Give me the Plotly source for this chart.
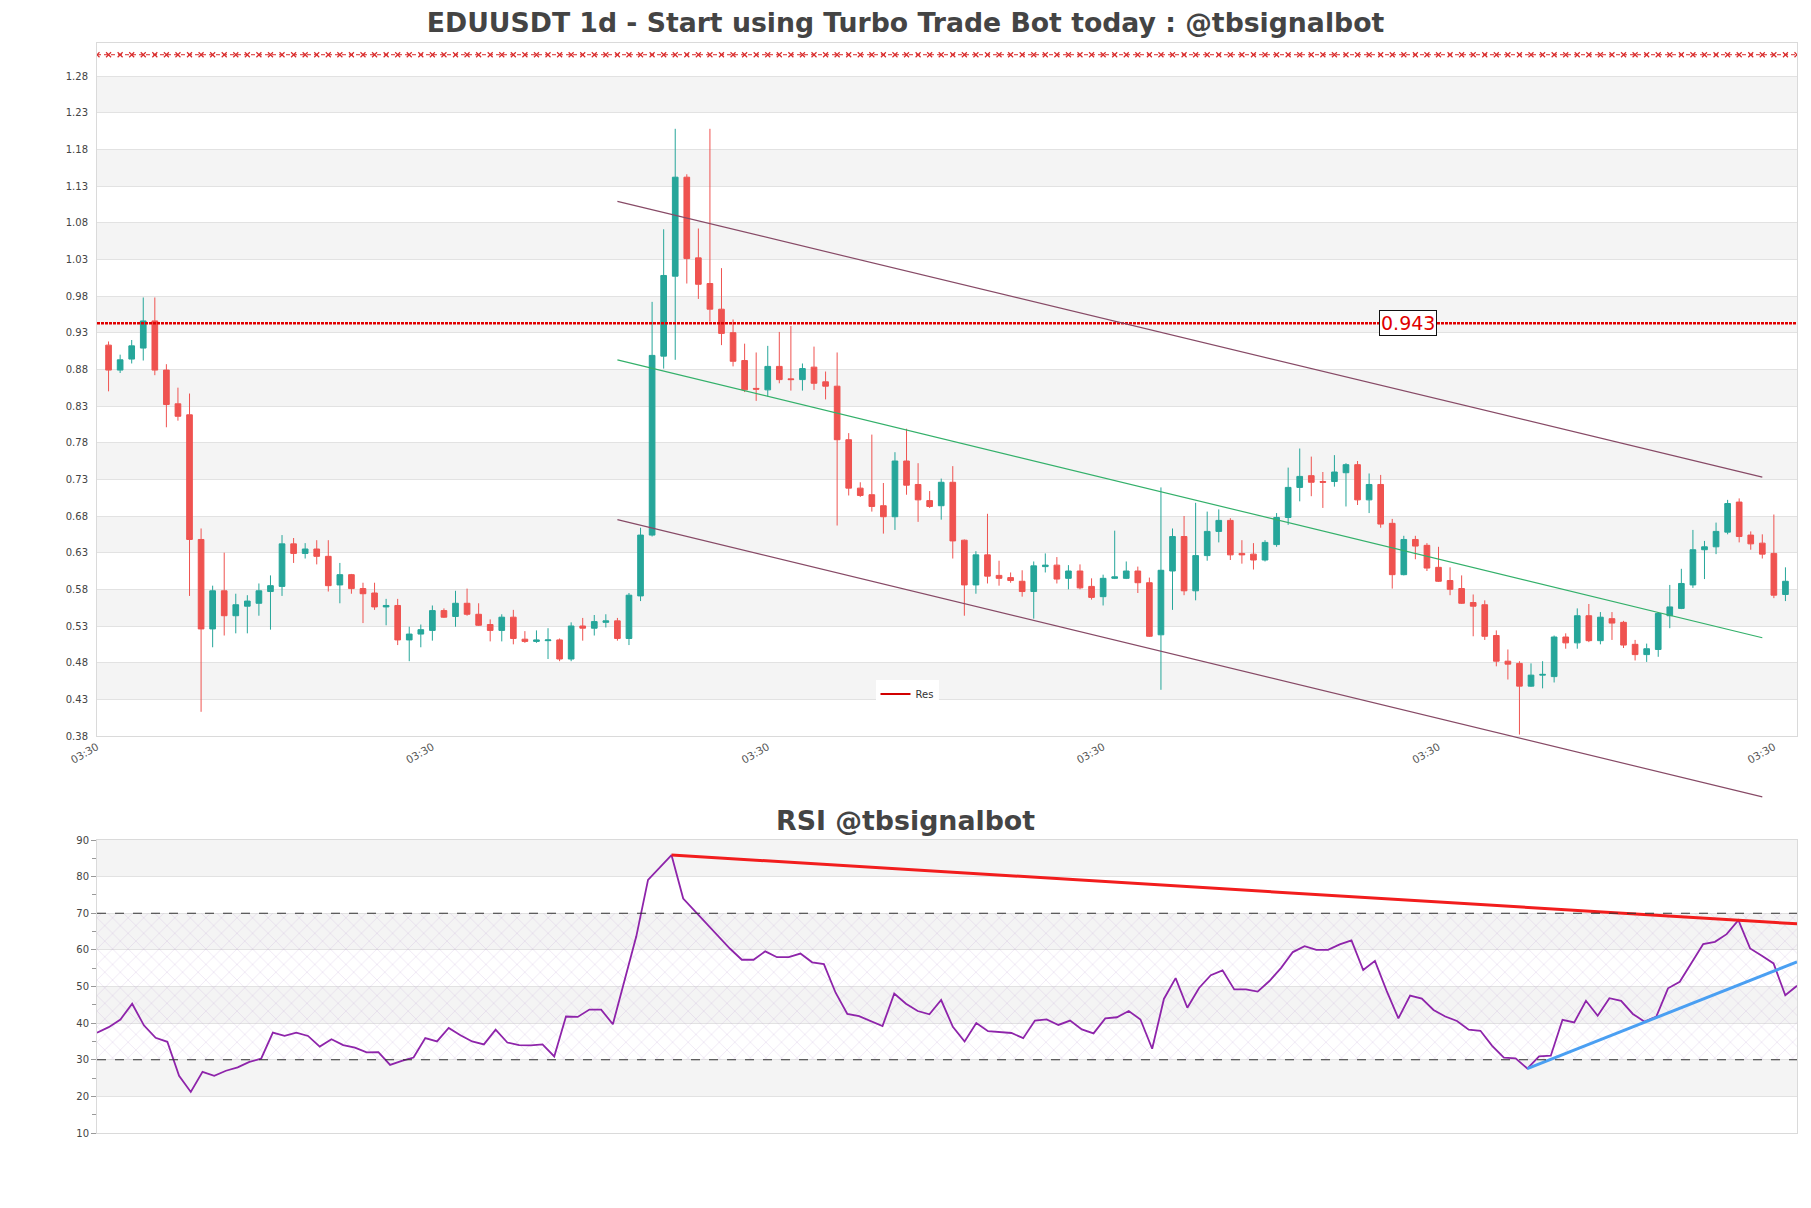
import plotly.graph_objects as go

# ---------------- data ----------------
opens = [0.913, 0.879, 0.894, 0.909, 0.946, 0.879, 0.833, 0.818, 0.648, 0.526,
         0.578, 0.544, 0.557, 0.561, 0.577, 0.584, 0.642, 0.629, 0.635, 0.625,
         0.586, 0.600, 0.581, 0.575, 0.556, 0.558, 0.511, 0.519, 0.524, 0.551,
         0.543, 0.561, 0.546, 0.532, 0.524, 0.542, 0.512, 0.509, 0.510, 0.511,
         0.485, 0.530, 0.527, 0.535, 0.537, 0.513, 0.571, 0.654, 0.898, 1.007,
         1.142, 1.032, 0.997, 0.962, 0.930, 0.892, 0.854, 0.852, 0.884, 0.867,
         0.866, 0.883, 0.863, 0.857, 0.784, 0.718, 0.709, 0.694, 0.679, 0.755,
         0.723, 0.701, 0.694, 0.726, 0.647, 0.586, 0.627, 0.599, 0.596, 0.591,
         0.577, 0.611, 0.613, 0.595, 0.605, 0.584, 0.570, 0.595, 0.595, 0.605,
         0.589, 0.518, 0.605, 0.652, 0.578, 0.626, 0.659, 0.674, 0.629, 0.628,
         0.620, 0.641, 0.678, 0.719, 0.735, 0.727, 0.727, 0.739, 0.750, 0.702,
         0.723, 0.670, 0.600, 0.648, 0.640, 0.610, 0.592, 0.581, 0.562, 0.559,
         0.517, 0.482, 0.479, 0.448, 0.463, 0.461, 0.515, 0.507, 0.544, 0.510,
         0.540, 0.535, 0.505, 0.491, 0.498, 0.544, 0.554, 0.586, 0.634, 0.638,
         0.658, 0.699, 0.654, 0.643, 0.629, 0.573]
highs = [0.918, 0.900, 0.920, 0.978, 0.978, 0.887, 0.855, 0.847, 0.663, 0.585,
         0.630, 0.574, 0.572, 0.588, 0.599, 0.654, 0.650, 0.643, 0.647, 0.647,
         0.616, 0.601, 0.589, 0.589, 0.567, 0.567, 0.529, 0.532, 0.558, 0.554,
         0.578, 0.581, 0.561, 0.539, 0.546, 0.552, 0.523, 0.524, 0.527, 0.513,
         0.535, 0.541, 0.545, 0.546, 0.541, 0.575, 0.664, 0.972, 1.071, 1.208,
         1.146, 1.072, 1.208, 1.018, 0.948, 0.915, 0.903, 0.912, 0.931, 0.939,
         0.888, 0.911, 0.877, 0.903, 0.793, 0.726, 0.791, 0.725, 0.767, 0.799,
         0.752, 0.714, 0.731, 0.748, 0.648, 0.632, 0.683, 0.619, 0.603, 0.606,
         0.618, 0.629, 0.624, 0.613, 0.614, 0.595, 0.600, 0.660, 0.618, 0.611,
         0.596, 0.719, 0.663, 0.680, 0.698, 0.686, 0.689, 0.677, 0.647, 0.643,
         0.647, 0.684, 0.746, 0.772, 0.761, 0.740, 0.763, 0.752, 0.755, 0.738,
         0.736, 0.676, 0.653, 0.653, 0.643, 0.638, 0.610, 0.599, 0.573, 0.565,
         0.524, 0.498, 0.482, 0.479, 0.482, 0.517, 0.520, 0.554, 0.560, 0.549,
         0.549, 0.537, 0.511, 0.506, 0.549, 0.586, 0.608, 0.661, 0.646, 0.671,
         0.702, 0.704, 0.659, 0.655, 0.682, 0.610]
lows = [0.850, 0.875, 0.888, 0.892, 0.872, 0.801, 0.810, 0.571, 0.413, 0.501,
        0.517, 0.520, 0.520, 0.544, 0.525, 0.571, 0.616, 0.622, 0.614, 0.577,
        0.561, 0.574, 0.534, 0.552, 0.531, 0.504, 0.482, 0.501, 0.510, 0.541,
        0.529, 0.544, 0.530, 0.509, 0.509, 0.505, 0.507, 0.507, 0.485, 0.482,
        0.482, 0.510, 0.517, 0.528, 0.510, 0.504, 0.564, 0.652, 0.881, 0.893,
        0.997, 0.976, 0.945, 0.913, 0.884, 0.849, 0.837, 0.843, 0.861, 0.851,
        0.851, 0.852, 0.839, 0.667, 0.708, 0.706, 0.686, 0.656, 0.661, 0.709,
        0.672, 0.691, 0.675, 0.622, 0.544, 0.574, 0.588, 0.585, 0.589, 0.570,
        0.540, 0.603, 0.588, 0.580, 0.580, 0.566, 0.558, 0.594, 0.594, 0.575,
        0.515, 0.443, 0.552, 0.572, 0.565, 0.619, 0.644, 0.620, 0.615, 0.607,
        0.618, 0.638, 0.668, 0.700, 0.707, 0.691, 0.720, 0.693, 0.695, 0.684,
        0.664, 0.581, 0.599, 0.621, 0.605, 0.590, 0.572, 0.560, 0.516, 0.511,
        0.475, 0.457, 0.382, 0.447, 0.445, 0.453, 0.499, 0.499, 0.508, 0.505,
        0.511, 0.500, 0.483, 0.481, 0.488, 0.527, 0.553, 0.582, 0.594, 0.628,
        0.655, 0.644, 0.634, 0.622, 0.568, 0.564]
closes = [0.879, 0.893, 0.912, 0.946, 0.879, 0.832, 0.816, 0.648, 0.526, 0.578,
          0.544, 0.559, 0.564, 0.578, 0.585, 0.642, 0.629, 0.635, 0.625, 0.585,
          0.600, 0.581, 0.574, 0.556, 0.558, 0.511, 0.519, 0.525, 0.551, 0.542,
          0.561, 0.546, 0.531, 0.524, 0.542, 0.513, 0.509, 0.511, 0.511, 0.485,
          0.530, 0.527, 0.536, 0.537, 0.513, 0.572, 0.654, 0.899, 1.008, 1.142,
          1.031, 0.996, 0.962, 0.929, 0.891, 0.852, 0.853, 0.884, 0.866, 0.866,
          0.881, 0.861, 0.857, 0.784, 0.718, 0.708, 0.693, 0.679, 0.755, 0.722,
          0.702, 0.693, 0.726, 0.646, 0.586, 0.627, 0.598, 0.595, 0.592, 0.577,
          0.612, 0.613, 0.594, 0.605, 0.582, 0.569, 0.595, 0.597, 0.605, 0.589,
          0.516, 0.606, 0.652, 0.578, 0.626, 0.659, 0.674, 0.627, 0.627, 0.620,
          0.644, 0.678, 0.719, 0.734, 0.726, 0.726, 0.740, 0.750, 0.702, 0.723,
          0.669, 0.600, 0.648, 0.639, 0.609, 0.591, 0.580, 0.561, 0.557, 0.516,
          0.482, 0.478, 0.448, 0.463, 0.464, 0.515, 0.507, 0.544, 0.510, 0.542,
          0.534, 0.504, 0.491, 0.499, 0.547, 0.556, 0.588, 0.634, 0.638, 0.659,
          0.697, 0.652, 0.642, 0.628, 0.572, 0.591]

rsi = [37.4, 38.9, 41.0, 45.3, 39.4, 36.0, 34.9, 25.6, 21.2, 26.7,
       25.6, 27.0, 27.9, 29.4, 30.3, 37.4, 36.5, 37.4, 36.5, 33.6,
       35.6, 34.0, 33.3, 32.0, 32.1, 28.6, 29.7, 30.6, 35.9, 35.0,
       38.7, 36.7, 35.0, 34.2, 38.2, 34.7, 34.0, 33.9, 34.2, 30.9,
       41.8, 41.7, 43.7, 43.7, 39.7, 51.9, 63.7, 79.1, 82.6, 85.9,
       74.0, 70.6, 67.1, 63.7, 60.3, 57.3, 57.3, 59.6, 58.0, 58.0,
       59.0, 56.6, 56.1, 48.3, 42.5, 41.9, 40.6, 39.2, 48.1, 45.3,
       43.3, 42.4, 46.3, 39.0, 35.0, 40.0, 37.8, 37.6, 37.3, 35.9,
       40.7, 41.0, 39.5, 40.7, 38.3, 37.2, 41.3, 41.6, 43.3, 41.0,
       33.0, 46.6, 52.3, 44.2, 49.6, 53.1, 54.4, 49.2, 49.2, 48.6,
       51.5, 55.1, 59.4, 61.0, 60.0, 60.0, 61.5, 62.6, 54.5, 57.0,
       48.8, 41.3, 47.5, 46.7, 43.6, 41.8, 40.6, 38.2, 37.9, 33.8,
       30.6, 30.4, 27.6, 30.9, 31.1, 40.9, 40.2, 46.1, 42.0, 46.8,
       46.1, 42.5, 40.4, 41.8, 49.5, 51.3, 56.5, 61.6, 62.2, 64.3,
       68.1, 60.4, 58.4, 56.3, 47.6, 50.2]

idx = list(range(len(opens)))

# levels / trend lines (index, value)
res_level = 0.943
res_top_level = 1.309
channel_x = [44, 143]
channel_upper = [1.109, 0.733]
channel_mid = [0.893, 0.514]
channel_lower = [0.675, 0.297]
rsi_down_x = [49, 145]
rsi_down_y = [85.9, 67.1]
rsi_up_x = [122, 145]
rsi_up_y = [27.6, 56.7]
rsi_levels = [30, 70]

price_ticks = [0.38, 0.43, 0.48, 0.53, 0.58, 0.63, 0.68, 0.73, 0.78, 0.83,
               0.88, 0.93, 0.98, 1.03, 1.08, 1.13, 1.18, 1.23, 1.28]
price_bands = [0.43, 0.53, 0.63, 0.73, 0.83, 0.93, 1.03, 1.13, 1.23]
rsi_bands = [20, 40, 60, 80]
x_tickvals = [-1, 28, 57, 86, 115, 144]
x_ticktext = ["03:30"] * len(x_tickvals)

X_RANGE = [-1, 146]
Y_RANGE = [0.38, 1.325]
RSI_X_RANGE = [0, 145]
RSI_RANGE = [10, 90]

FONT = "DejaVu Sans"

# ---------------- figure ----------------
fig = go.Figure()

fig.add_trace(go.Candlestick(
    x=idx, open=opens, high=highs, low=lows, close=closes,
    increasing=dict(line=dict(color="#26a69a", width=1), fillcolor="#26a69a"),
    decreasing=dict(line=dict(color="#ef5350", width=1), fillcolor="#ef5350"),
    showlegend=False, xaxis="x", yaxis="y", hoverinfo="skip"))

top_x = list(range(X_RANGE[0], X_RANGE[1] + 1))
fig.add_trace(go.Scatter(
    x=top_x, y=[res_top_level] * len(top_x), mode="lines+markers",
    line=dict(color="#d92b2b", width=1, dash="4px,3px"),
    marker=dict(symbol="x-thin", size=5, line=dict(color="#d92b2b", width=1.2)),
    showlegend=False, xaxis="x", yaxis="y", hoverinfo="skip"))

fig.add_trace(go.Scatter(
    x=X_RANGE, y=[res_level, res_level], mode="lines",
    line=dict(color="#e00000", width=2.5, dash="3px,1px"),
    showlegend=False, xaxis="x", yaxis="y", hoverinfo="skip"))
# legend entry for the resistance line
fig.add_trace(go.Scatter(
    x=[None], y=[None], mode="lines", line=dict(color="#d10000", width=2),
    name="Res", showlegend=True, xaxis="x", yaxis="y"))

# RSI
fig.add_trace(go.Scatter(
    x=[RSI_X_RANGE[0], RSI_X_RANGE[1], RSI_X_RANGE[1], RSI_X_RANGE[0], RSI_X_RANGE[0]],
    y=[rsi_levels[0], rsi_levels[0], rsi_levels[1], rsi_levels[1], rsi_levels[0]],
    fill="toself", mode="lines", line=dict(width=0),
    fillcolor="rgba(0,0,0,0)",
    fillpattern=dict(shape="x", fgcolor="rgba(170,130,200,0.6)",
                     bgcolor="rgba(0,0,0,0)", size=11, solidity=0.1),
    showlegend=False, xaxis="x2", yaxis="y2", hoverinfo="skip"))

fig.add_trace(go.Scatter(
    x=list(range(len(rsi))), y=rsi, mode="lines",
    line=dict(color="#8e24aa", width=1.8),
    showlegend=False, xaxis="x2", yaxis="y2", hoverinfo="skip"))

fig.add_trace(go.Scatter(
    x=rsi_down_x, y=rsi_down_y, mode="lines",
    line=dict(color="#f21d1d", width=3),
    showlegend=False, xaxis="x2", yaxis="y2", hoverinfo="skip"))
fig.add_trace(go.Scatter(
    x=rsi_up_x, y=rsi_up_y, mode="lines",
    line=dict(color="#4a9ff2", width=3),
    showlegend=False, xaxis="x2", yaxis="y2", hoverinfo="skip"))

shapes = []
for b in price_bands:
    shapes.append(dict(type="rect", xref="x domain", yref="y", x0=0, x1=1,
                       y0=b, y1=b + 0.05, fillcolor="#f4f4f4",
                       line=dict(width=0), layer="below"))
for b in rsi_bands:
    shapes.append(dict(type="rect", xref="x2 domain", yref="y2", x0=0, x1=1,
                       y0=b, y1=b + 10, fillcolor="#f4f4f4",
                       line=dict(width=0), layer="below"))
for lv in rsi_levels:
    shapes.append(dict(type="line", xref="x2 domain", yref="y2", x0=0, x1=1,
                       y0=lv, y1=lv, line=dict(color="#333333", width=1.2, dash="dash")))


def ydom(v):
    return (v - Y_RANGE[0]) / (Y_RANGE[1] - Y_RANGE[0])


for vals, col in [(channel_upper, "#874a66"), (channel_mid, "#33b06a"),
                  (channel_lower, "#874a66")]:
    shapes.append(dict(type="line", xref="x", yref="y domain",
                       x0=channel_x[0], x1=channel_x[1],
                       y0=ydom(vals[0]), y1=ydom(vals[1]),
                       line=dict(color=col, width=1.2)))

annotations = [
    dict(x=112.4, y=res_level, xref="x", yref="y", text="0.943", showarrow=False,
         font=dict(family=FONT, size=19, color="#e00000"),
         bgcolor="white", bordercolor="#111", borderwidth=1, borderpad=1),
    dict(x=(905.5 - 97) / 1700, y=(1208 - 75 - 820) / 1090, xref="paper", yref="paper",
         text="<b>RSI @tbsignalbot</b>", showarrow=False, xanchor="center", yanchor="middle",
         font=dict(family=FONT, size=26.8, color="#444444")),
]

axis_line = "#dadada"
grid = "#e2e2e2"
fig.update_layout(
    width=1811, height=1208,
    margin=dict(l=97, r=14, t=43, b=75),
    paper_bgcolor="white", plot_bgcolor="white",
    font=dict(family=FONT, size=10, color="#444444"),
    title=dict(text="<b>EDUUSDT 1d - Start using Turbo Trade Bot today : @tbsignalbot</b>",
               x=0.5, xref="container", y=1 - 23 / 1208, yref="container",
               xanchor="center", yanchor="middle",
               font=dict(family=FONT, size=26.7, color="#444444")),
    xaxis=dict(domain=[0, 1], anchor="y", range=X_RANGE, tickvals=x_tickvals,
               ticktext=x_ticktext, tickangle=-30, tickfont=dict(size=10.5, color="#555"),
               showgrid=False, zeroline=False, showline=True, linecolor=axis_line,
               mirror=True, rangeslider=dict(visible=False), ticks=""),
    yaxis=dict(domain=[(1208 - 75 - 736) / 1090, 1], anchor="x", range=Y_RANGE,
               tickvals=price_ticks, ticktext=["%.2f" % t for t in price_ticks],
               tickfont=dict(size=10, color="#444"), showgrid=True, gridcolor=grid,
               zeroline=False, showline=True, linecolor=axis_line, mirror=True,
               ticks="outside", ticklen=6, tickcolor="rgba(0,0,0,0)"),
    xaxis2=dict(domain=[0, 1], anchor="y2", range=RSI_X_RANGE, showticklabels=False,
                showgrid=False, zeroline=False, showline=True, linecolor=axis_line,
                mirror=True, ticks=""),
    yaxis2=dict(domain=[0, (1208 - 75 - 840) / 1090], anchor="x2", range=RSI_RANGE,
                tick0=10, dtick=10, tickfont=dict(size=10, color="#444"),
                showgrid=True, gridcolor=grid, zeroline=False, showline=True,
                linecolor=axis_line, mirror=True, ticks="outside", ticklen=5,
                tickcolor="#999",
                minor=dict(dtick=5, tick0=10, ticks="outside", ticklen=4,
                           tickcolor="#999", showgrid=False)),
    legend=dict(x=(907 - 97) / 1700, y=(1208 - 75 - 694) / 1090, xanchor="center",
                yanchor="middle", bgcolor="white", font=dict(size=10, color="#333"),
                orientation="h", itemwidth=30),
    shapes=shapes,
    annotations=annotations,
    showlegend=True,
)

fig.write_html("out.html")
